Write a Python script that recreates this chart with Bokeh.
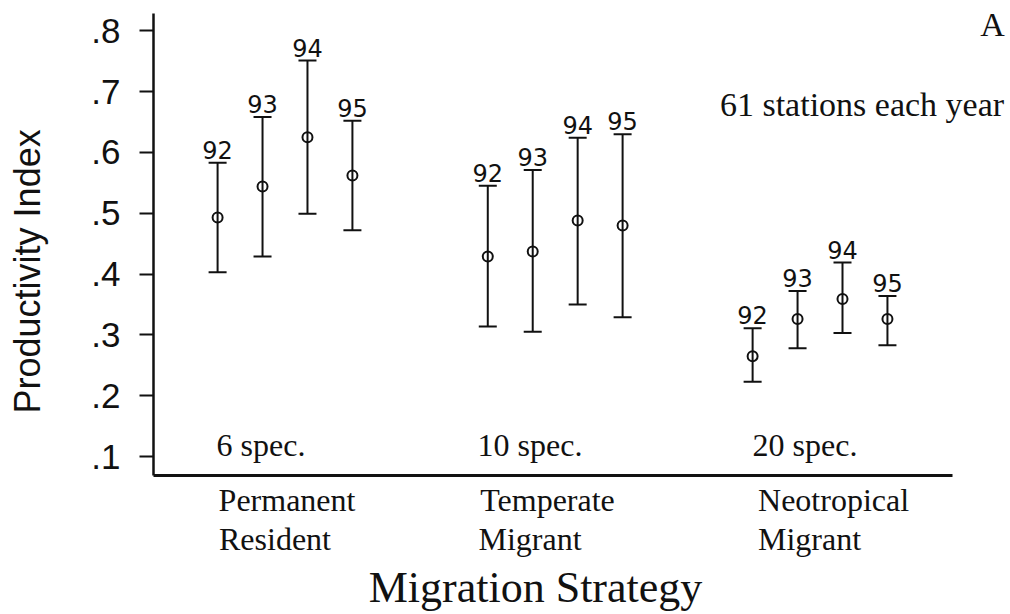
from bokeh.plotting import figure
from bokeh.models import FixedTicker, CustomJSTickFormatter, ColumnDataSource, Range1d, LinearAxis
from bokeh.core.properties import value
from bokeh.embed import file_html
from bokeh.resources import INLINE

# ---- data ----
group_line1 = ["Permanent", "Temperate", "Neotropical"]
group_line2 = ["Resident", "Migrant", "Migrant"]
species = ["6 spec.", "10 spec.", "20 spec."]
years = ["92", "93", "94", "95"]

mean_vals = [
    [0.493, 0.544, 0.625, 0.562],
    [0.429, 0.437, 0.488, 0.480],
    [0.265, 0.326, 0.359, 0.326],
]
upper_vals = [
    [0.583, 0.658, 0.751, 0.652],
    [0.545, 0.571, 0.624, 0.630],
    [0.311, 0.372, 0.419, 0.364],
]
lower_vals = [
    [0.403, 0.429, 0.499, 0.472],
    [0.314, 0.305, 0.350, 0.329],
    [0.223, 0.278, 0.303, 0.283],
]
y_ticks = [0.1, 0.2, 0.3, 0.4, 0.5, 0.6, 0.7, 0.8]
note_text = "61 stations each year"
panel_letter = "A"
x_title = "Migration Strategy"
y_title = "Productivity Index"

# ---- layout constants ----
group_pos = [1.0, 2.01, 3.0]
year_offset = [-0.252, -0.084, 0.084, 0.252]
spec_x = [0.744, 1.72, 2.748]          # left edge of the species counts
line1_x = [1.0075, 1.9813, 3.0505]     # centres of first line of names
line2_x = [0.9626, 1.9159, 2.9607]     # centres of second line of names
x_title_pos = 1.9364
y_title_pos = 0.4044
INK = "#111111"
X0, X1 = 0.5084, 3.712

xs, ms, us, ls, yl = [], [], [], [], []
for g in range(3):
    for i in range(4):
        xs.append(group_pos[g] + year_offset[i])
        ms.append(mean_vals[g][i])
        us.append(upper_vals[g][i])
        ls.append(lower_vals[g][i])
        yl.append(years[i])
src = ColumnDataSource(dict(x=xs, m=ms, u=us, l=ls, yr=yl))

p = figure(width=1010, height=614, x_range=Range1d(X0, X1),
           y_range=Range1d(0.0689, 0.8283), toolbar_location=None,
           output_backend="svg", min_border_left=153, min_border_right=0,
           min_border_top=13, min_border_bottom=137)
p.outline_line_color = None
p.xgrid.visible = False
p.ygrid.visible = False
p.background_fill_color = "white"
p.border_fill_color = "white"

pick_code = ("let b = 0; for (let i = 0; i < pos.length; i++) {"
             " if (Math.abs(pos[i] - tick) < Math.abs(pos[b] - tick)) b = i; }"
             " return names[b];")

def style_text_axis(ax, pos, names, standoff, size):
    ax.ticker = FixedTicker(ticks=pos)
    ax.formatter = CustomJSTickFormatter(args=dict(pos=pos, names=names), code=pick_code)
    ax.major_tick_line_color = None
    ax.minor_tick_line_color = None
    ax.major_tick_out = 0
    ax.major_tick_in = 0
    ax.major_label_standoff = standoff
    ax.major_label_text_font = "Liberation Serif"
    ax.major_label_text_font_size = size
    ax.major_label_text_color = INK

# x axis: line + first line of category names
xa = p.xaxis[0]
style_text_axis(xa, line1_x, group_line1, 6, "32px")
xa.bounds = (X0, 3.4953)
xa.axis_line_width = 3
xa.axis_line_color = INK

# second line of category names
xa2 = LinearAxis(axis_line_color=None)
style_text_axis(xa2, line2_x, group_line2, 0, "32px")
p.add_layout(xa2, "below")

# axis title (as a single positioned label)
xa3 = LinearAxis(axis_line_color=None)
style_text_axis(xa3, [x_title_pos], [x_title], 3, "44px")
p.add_layout(xa3, "below")

# y axis
p.yaxis.ticker = FixedTicker(ticks=y_ticks)
p.yaxis.formatter = CustomJSTickFormatter(code="return tick.toFixed(1).slice(1);")
p.yaxis.axis_line_width = 2.5
p.yaxis.axis_line_color = INK
p.yaxis.major_tick_out = 14
p.yaxis.major_tick_in = 0
p.yaxis.major_tick_line_width = 2
p.yaxis.major_tick_line_color = INK
p.yaxis.minor_tick_line_color = None
p.yaxis.major_label_text_font = "Liberation Sans"
p.yaxis.major_label_text_font_size = "35px"
p.yaxis.major_label_text_color = INK
p.yaxis.major_label_standoff = 19

# y title as a rotated label on an extra axis
ya2 = LinearAxis(axis_line_color=None)
style_text_axis(ya2, [y_title_pos], [y_title], 40, "36px")
ya2.major_label_text_font = "Liberation Sans"
ya2.major_label_orientation = "parallel"
p.add_layout(ya2, "left")

# error bars
p.segment(x0="x", y0="l", x1="x", y1="u", source=src, line_color=INK, line_width=2)
p.scatter(x="x", y="u", source=src, marker="dash", size=18, line_color=INK, line_width=2)
p.scatter(x="x", y="l", source=src, marker="dash", size=18, line_color=INK, line_width=2)
p.scatter(x="x", y="m", source=src, marker="circle", size=10, fill_alpha=0,
          line_color=INK, line_width=2)
p.text(x="x", y="u", text="yr", source=src, text_align="center", text_baseline="bottom",
       y_offset=-4, text_font=value("DejaVu Sans"), text_font_size="24px", text_color=INK)

# species counts
p.text(x=spec_x, y=[0.1196] * 3, text=species, text_align="left", text_baseline="middle",
       text_font=value("Liberation Serif"), text_font_size="32px", text_color=INK)

# note and panel letter
p.text(x=[3.157], y=[0.679], text=[note_text], text_align="center", text_baseline="middle",
       text_font=value("Liberation Serif"), text_font_size="34px", text_color=INK)
p.text(x=[3.645], y=[0.810], text=[panel_letter], text_align="center", text_baseline="middle",
       text_font=value("Liberation Serif"), text_font_size="34px", text_color=INK)

open("out.html", "w").write(file_html(p, INLINE))
